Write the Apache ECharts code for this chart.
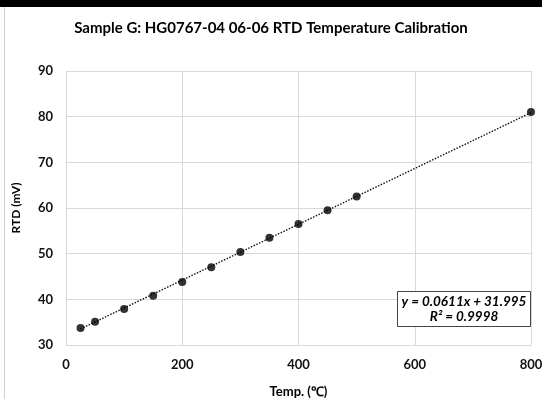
<!DOCTYPE html>
<html>
<head>
<meta charset="utf-8">
<script src="https://cdn.jsdelivr.net/npm/echarts@6/dist/echarts.min.js"></script>
<style>
html,body{margin:0;padding:0;background:#fff;}
#chart{width:542px;height:399px;}
</style>
</head>
<body>
<div id="chart"></div>
<script>
const temps = [25, 50, 100, 150, 200, 250, 300, 350, 400, 450, 500, 800];
const rtd = [33.7, 35.1, 37.9, 40.8, 43.8, 47.0, 50.35, 53.5, 56.5, 59.5, 62.5, 81.0];
const slope = 0.0611;
const intercept = 31.995;
const trendX = [25, 800];
const xTicks = [0, 200, 400, 600, 800];
const yTicks = [30, 40, 50, 60, 70, 80, 90];

const FONT = 'Lato';
const chart = echarts.init(document.getElementById('chart'));
const pts = temps.map((t, i) => [t, rtd[i]]);
const trend = trendX.map(x => [x, slope * x + intercept]);

chart.setOption({
  animation: false,
  backgroundColor: '#fff',
  title: {
    text: 'Sample G: HG0767-04 06-06 RTD Temperature Calibration',
    left: 266, top: 16, textAlign: 'center',
    textStyle: {fontFamily: FONT, fontWeight: 'bold', fontSize: 15, color: '#000'}
  },
  grid: {left: 66, right: 11, top: 71, bottom: 54, outerBoundsMode: 'none', containLabel: false},
  xAxis: {
    type: 'value', min: 0, max: 800, interval: 200,
    name: 'Temp. (℃)', nameLocation: 'middle', nameGap: 40,
    nameTextStyle: {fontFamily: FONT, fontWeight: 'bold', fontSize: 13, color: '#000'},
    axisLine: {show: true, lineStyle: {color: '#d9d9d9'}},
    axisTick: {show: false},
    splitLine: {show: true, lineStyle: {color: '#d9d9d9'}},
    axisLabel: {fontFamily: FONT, fontWeight: 'bold', fontSize: 13, color: '#111', margin: 13}
  },
  yAxis: {
    type: 'value', min: 30, max: 90, interval: 10,
    name: 'RTD (mV)', nameLocation: 'middle', nameGap: 44, nameRotate: 90,
    nameTextStyle: {fontFamily: FONT, fontWeight: 'bold', fontSize: 12, color: '#000'},
    axisLine: {show: true, lineStyle: {color: '#d9d9d9'}},
    axisTick: {show: false},
    splitLine: {show: true, lineStyle: {color: '#d9d9d9'}},
    axisLabel: {fontFamily: FONT, fontWeight: 'bold', fontSize: 13, color: '#111', margin: 13}
  },
  series: [
    {
      type: 'line', data: trend, symbol: 'none', silent: true,
      lineStyle: {color: '#111', width: 1.4, type: [1.5, 1.5]}, z: 1
    },
    {
      type: 'scatter', data: pts, symbol: 'circle', symbolSize: 8,
      itemStyle: {color: '#000'}, z: 3
    }
  ],
  graphic: [
    {type: 'rect', shape: {x: 0, y: 0, width: 542, height: 7}, style: {fill: '#000'}},
    {type: 'rect', shape: {x: 4, y: 7, width: 1, height: 392}, style: {fill: '#d0d0d0'}},
    {type: 'rect', shape: {x: 397.5, y: 291.5, width: 133, height: 35}, style: {fill: '#fff', stroke: '#444', lineWidth: 1}, z: 10},
    {type: 'text', x: 464, y: 302, z: 11, style: {text: 'y = 0.0611x + 31.995', textAlign: 'center', textVerticalAlign: 'middle', fontFamily: FONT, fontWeight: 'bold', fontStyle: 'italic', fontSize: 13.5, fill: '#000'}},
    {type: 'text', x: 464, y: 317, z: 11, style: {text: 'R² = 0.9998', textAlign: 'center', textVerticalAlign: 'middle', fontFamily: FONT, fontWeight: 'bold', fontStyle: 'italic', fontSize: 13.5, fill: '#000'}}
  ]
});
</script>
</body>
</html>
